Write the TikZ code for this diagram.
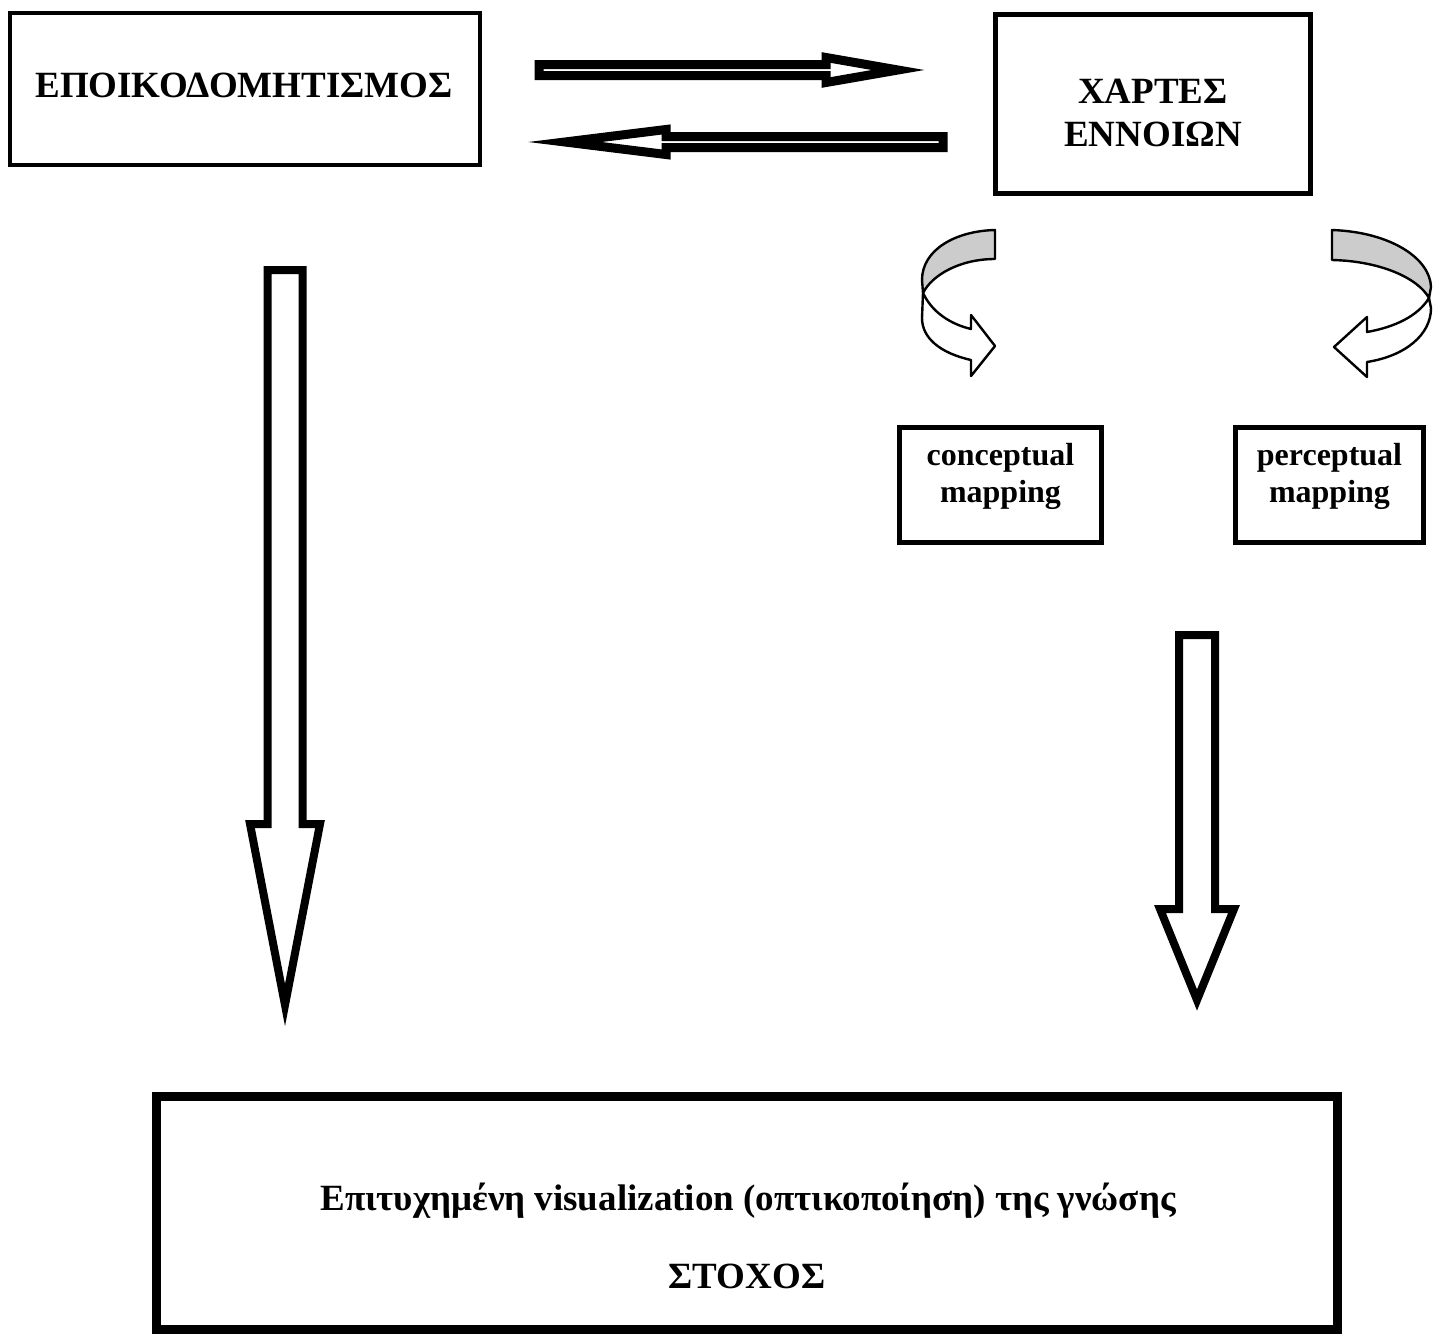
\documentclass[tikz,border=0pt]{standalone}
\usepackage{fontspec}
\setmainfont{Liberation Serif}
\usetikzlibrary{calc}
\definecolor{curlgray}{RGB}{204,204,204}
\begin{document}
\begin{tikzpicture}[x=1pt,y=-1pt,
  box/.style={draw=black,rectangle,inner sep=0pt,outer sep=0pt,fill=white},
  bigtxt/.style={font=\fontsize{37}{43}\selectfont\bfseries,align=center,inner sep=0pt},
  smalltxt/.style={font=\fontsize{32}{37}\selectfont\bfseries,align=center,inner sep=0pt},
  blockarrow/.style={draw=black,fill=white,line join=miter,miter limit=12},
  curl/.style={draw=black,line width=2.4pt,line join=round}]
\useasboundingbox (0,0) rectangle (1437,1336);

% boxes
\node[box,line width=4.5pt,minimum width=470pt,minimum height=152pt] (epoik) at (245,89) {};
\node[bigtxt] (epoiktxt) at (244,85) {ΕΠΟΙΚΟΔΟΜΗΤΙΣΜΟΣ};

\node[box,line width=5pt,minimum width=315pt,minimum height=179pt] (xartes) at (1153,104) {};
\node[bigtxt] (xartestxt) at (1153,113) {ΧΑΡΤΕΣ\\ΕΝΝΟΙΩΝ};

\node[box,line width=5pt,minimum width=202pt,minimum height=115pt] (concept) at (1000.5,485) {};
\node[smalltxt] (concepttxt) at (1000.5,476) {conceptual\\mapping};

\node[box,line width=5pt,minimum width=188pt,minimum height=115pt] (percept) at (1329.5,485) {};
\node[smalltxt] (percepttxt) at (1329.5,476) {perceptual\\mapping};

\node[box,line width=9pt,minimum width=1181pt,minimum height=233pt] (goal) at (747,1213) {};
\node[bigtxt] (goaltxt) at (748,1201) {Επιτυχημένη visualization (οπτικοποίηση) της γνώσης};
\node[bigtxt] (stoxos) at (747,1276) {ΣΤΟΧΟΣ};

% horizontal block arrows between the two top boxes
\draw[blockarrow,line width=9pt]
  (539,64.5) -- (826,64.5) -- (826,57.5) -- (898,70) -- (826,82.5) -- (826,75.5) -- (539,75.5) -- cycle;
\draw[blockarrow,line width=9pt]
  (943,136.5) -- (666,136.5) -- (666,129.5) -- (565,142) -- (666,154.5) -- (666,147.5) -- (943,147.5) -- cycle;

% vertical block arrows towards the goal
\draw[blockarrow,line width=8pt]
  (267.5,270) -- (302.5,270) -- (302.5,824) -- (320,824) -- (285,1005) -- (250,824) -- (267.5,824) -- cycle;
\draw[blockarrow,line width=8pt]
  (1179,635) -- (1215,635) -- (1215,909) -- (1234,909) -- (1197,1000) -- (1160,909) -- (1179,909) -- cycle;

% left curled ribbon arrow
\draw[curl,fill=white]
  (923,293) .. controls (932,312) and (950,324) .. (971,329) -- (971,315) -- (995,346)
  -- (971,376) -- (971,360) .. controls (940,353) and (922,338) .. (922,318) -- cycle;
\draw[curl,fill=curlgray]
  (995,230) .. controls (955,231) and (922,250) .. (922,280) -- (923,293)
  .. controls (932,275) and (960,259) .. (995,259) -- cycle;

% right curled ribbon arrow
\draw[curl,fill=white]
  (1429,298) .. controls (1418,316) and (1395,327) .. (1367,332) -- (1367,317) -- (1334,347)
  -- (1367,377) -- (1367,362) .. controls (1405,356) and (1431,335) .. (1431,308) -- cycle;
\draw[curl,fill=curlgray]
  (1332,230) .. controls (1390,232) and (1430,258) .. (1431,287) -- (1429,298)
  .. controls (1418,278) and (1380,261) .. (1332,260) -- cycle;
\end{tikzpicture}
\end{document}
